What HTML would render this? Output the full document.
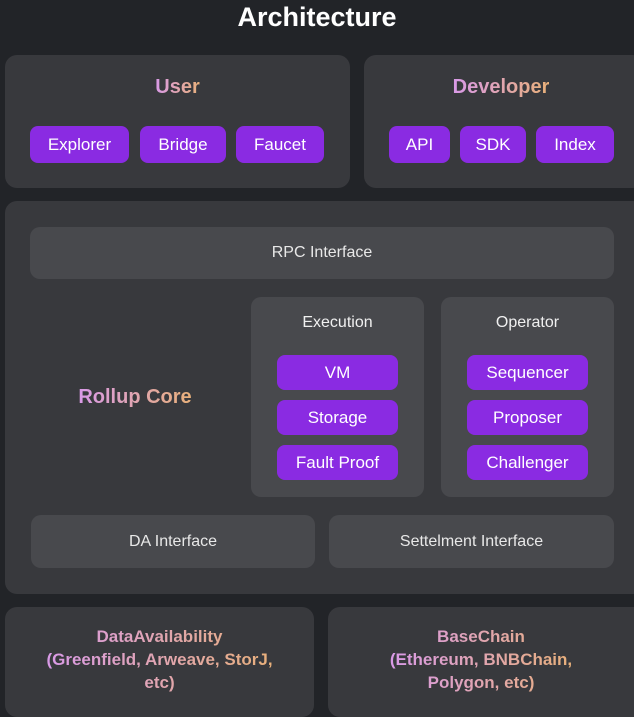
<!DOCTYPE html>
<html><head><style>
body{margin:0;width:634px;height:714px;background:#222428;font-family:"Liberation Sans",sans-serif;position:relative;overflow:hidden}
div{position:absolute;box-sizing:border-box}
.p{background:#38393d;border-radius:12px}
.i{background:#48494d;border-radius:10px;color:#e8e8e8;font-size:16px;display:flex;align-items:center;justify-content:center}
.b{background:#8a2be2;border-radius:8px;color:#fff;font-size:17px;display:flex;align-items:center;justify-content:center}
.g{font-weight:bold;text-align:center}
.g span{display:inline-block;background:linear-gradient(90deg,#d99ae8,#e8b07a);-webkit-background-clip:text;background-clip:text;color:transparent}
.t{color:#f0f0f0;font-size:16px;text-align:center}
</style></head><body>
<div style="left:0;top:1px;width:634px;text-align:center;color:#fff;font-weight:bold;font-size:27px;line-height:32px">Architecture</div>
<div class="p" style="left:5px;top:55px;width:345px;height:133px"></div>
<div class="p" style="left:364px;top:55px;width:280px;height:133px"></div>
<div class="g" style="left:5px;top:76px;width:345px;font-size:20px"><span>User</span></div>
<div class="g" style="left:364px;top:76px;width:274px;font-size:20px"><span>Developer</span></div>
<div class="b" style="left:30px;top:126px;width:99px;height:37px">Explorer</div>
<div class="b" style="left:140px;top:126px;width:86px;height:37px">Bridge</div>
<div class="b" style="left:236px;top:126px;width:88px;height:37px">Faucet</div>
<div class="b" style="left:389px;top:126px;width:61px;height:37px">API</div>
<div class="b" style="left:460px;top:126px;width:66px;height:37px">SDK</div>
<div class="b" style="left:536px;top:126px;width:78px;height:37px">Index</div>
<div class="p" style="left:5px;top:201px;width:640px;height:393px"></div>
<div class="i" style="left:30px;top:227px;width:584px;height:52px">RPC Interface</div>
<div class="g" style="left:60px;top:386px;width:150px;font-size:20px"><span>Rollup Core</span></div>
<div class="i" style="left:251px;top:297px;width:173px;height:200px"></div>
<div class="i" style="left:441px;top:297px;width:173px;height:200px"></div>
<div class="t" style="left:251px;top:314px;width:173px">Execution</div>
<div class="t" style="left:441px;top:314px;width:173px">Operator</div>
<div class="b" style="left:277px;top:355px;width:121px;height:35px">VM</div>
<div class="b" style="left:277px;top:400px;width:121px;height:35px">Storage</div>
<div class="b" style="left:277px;top:445px;width:121px;height:35px">Fault Proof</div>
<div class="b" style="left:467px;top:355px;width:121px;height:35px">Sequencer</div>
<div class="b" style="left:467px;top:400px;width:121px;height:35px">Proposer</div>
<div class="b" style="left:467px;top:445px;width:121px;height:35px">Challenger</div>
<div class="i" style="left:31px;top:515px;width:284px;height:53px">DA Interface</div>
<div class="i" style="left:329px;top:515px;width:285px;height:53px">Settelment Interface</div>
<div class="p" style="left:5px;top:607px;width:309px;height:110px"></div>
<div class="p" style="left:328px;top:607px;width:320px;height:110px"></div>
<div class="g" style="left:5px;top:625px;width:309px;font-size:17px;line-height:23px"><span>DataAvailability<br>(Greenfield, Arweave, StorJ,<br>etc)</span></div>
<div class="g" style="left:328px;top:625px;width:306px;font-size:17px;line-height:23px"><span>BaseChain<br>(Ethereum, BNBChain,<br>Polygon, etc)</span></div>
</body></html>
